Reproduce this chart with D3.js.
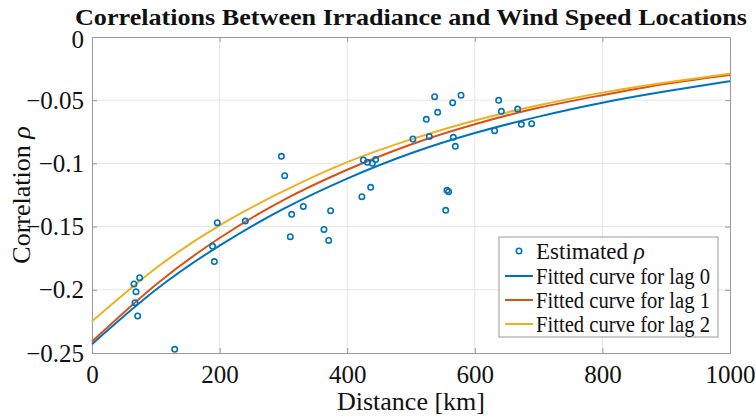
<!DOCTYPE html>
<html>
<head>
  <style>
    body { margin: 0; background: #fff; }
  </style>
</head>
<body>
  <svg width="756" height="417"></svg>
  <script src="https://d3js.org/d3.v7.min.js"></script>
  <script>
    // estimated correlation per site pair: [distance km, rho]
    const estDistance = [65.8, 74.7, 69, 67.4, 71.6, 129.6, 196.4, 189, 191.7, 240.3,
      296.8, 302, 313, 331.2, 310.8, 374, 363.6, 371, 423, 436.8, 425.3, 431.6, 439.4,
      444.6, 503, 528.7, 524, 537, 541.8, 565.3, 578.4, 566.3, 569.5, 556.4, 559, 554.4,
      631, 637.4, 641.6, 667.2, 673, 689.2];
    const estRho = [-0.1954, -0.1904, -0.2015, -0.2102, -0.2207, -0.2471, -0.1469, -0.1656,
      -0.1777, -0.1456, -0.0944, -0.1097, -0.1403, -0.134, -0.158, -0.1374, -0.1522, -0.1609,
      -0.1263, -0.1189, -0.0973, -0.0991, -0.0999, -0.0970, -0.0807, -0.0788, -0.0651, -0.0472,
      -0.0596, -0.052, -0.0461, -0.0794, -0.0865, -0.1213, -0.1224, -0.1371, -0.0741, -0.0501,
      -0.0588, -0.057, -0.0691, -0.0686];

    // fitted curves sampled every 100 km
    const fitDistance = [0, 100, 200, 300, 400, 500, 600, 700, 800, 900, 1000];
    const fitLag0 = [-0.243, -0.200, -0.165, -0.136, -0.112, -0.092, -0.076, -0.063, -0.052, -0.043, -0.035];
    const fitLag1 = [-0.241, -0.196, -0.159, -0.129, -0.105, -0.085, -0.069, -0.056, -0.046, -0.037, -0.030];
    const fitLag2 = [-0.225, -0.183, -0.149, -0.122, -0.099, -0.081, -0.066, -0.054, -0.044, -0.036, -0.029];

    const xTicks = [0, 200, 400, 600, 800, 1000];
    const yTicks = [0, -0.05, -0.1, -0.15, -0.2, -0.25];
    const seriesNames = ["Fitted curve for lag 0", "Fitted curve for lag 1", "Fitted curve for lag 2"];
    const colors = ["#0072BD", "#D95319", "#EDB120"];
    const serif = "'Liberation Serif', 'Times New Roman', serif";

    const svg = d3.select("svg").attr("font-family", serif),
          margin = {top: 37, right: 26, bottom: 64, left: 92},
          width = 756 - margin.left - margin.right,
          height = 417 - margin.top - margin.bottom;

    const x = d3.scaleLinear().domain([0, 1000]).range([0, width]),
          y = d3.scaleLinear().domain([-0.25, 0]).range([height, 0]);

    const g = svg.append("g")
      .attr("transform", "translate(" + margin.left + "," + margin.top + ")");

    // grid
    g.append("g").selectAll("line").data(xTicks.slice(1, -1)).join("line")
      .attr("x1", d => x(d)).attr("x2", d => x(d))
      .attr("y1", 0).attr("y2", height)
      .attr("stroke", "#e6e6e6").attr("stroke-width", 1);
    g.append("g").selectAll("line").data(yTicks.slice(1, -1)).join("line")
      .attr("y1", d => y(d)).attr("y2", d => y(d))
      .attr("x1", 0).attr("x2", width)
      .attr("stroke", "#e6e6e6").attr("stroke-width", 1);

    // axes with inward ticks
    const xAxis = g.append("g")
      .attr("transform", "translate(0," + height + ")")
      .call(d3.axisBottom(x).tickValues(xTicks).tickSizeInner(-5).tickSizeOuter(0).tickPadding(12).tickFormat(d3.format("d")));
    const yAxis = g.append("g")
      .call(d3.axisLeft(y).tickValues(yTicks).tickSizeInner(-5).tickSizeOuter(0).tickPadding(8).tickFormat(d => d === 0 ? "0" : d3.format("")(d)));
    g.append("g").call(d3.axisTop(x).tickValues(xTicks).tickSizeInner(-5).tickSizeOuter(0).tickFormat(""));
    g.append("g").attr("transform", "translate(" + width + ",0)")
      .call(d3.axisRight(y).tickValues(yTicks).tickSizeInner(-5).tickSizeOuter(0).tickFormat(""));

    g.selectAll(".domain").attr("stroke", "#999");
    g.selectAll(".tick line").attr("stroke", "#999");
    [xAxis, yAxis].forEach(function(a) {
      a.attr("font-family", serif).attr("font-size", 25);
      a.selectAll("text").attr("fill", "#111");
    });
    yAxis.selectAll("text").filter(d => d === 0).attr("dy", "0.42em");

    // fitted curves
    const line = d3.line()
      .x((d, i) => x(fitDistance[i]))
      .y(d => y(d))
      .curve(d3.curveNatural);
    [fitLag0, fitLag1, fitLag2].forEach(function(s, i) {
      g.append("path")
        .attr("d", line(s))
        .attr("fill", "none")
        .attr("stroke", colors[i])
        .attr("stroke-width", 2);
    });

    // estimated points
    g.selectAll(".dot")
      .data(estDistance)
      .join("circle")
      .attr("class", "dot")
      .attr("cx", d => x(d))
      .attr("cy", (d, i) => y(estRho[i]))
      .attr("r", 2.7)
      .attr("fill", "none")
      .attr("stroke", colors[0])
      .attr("stroke-width", 1.6);

    // title and axis labels
    svg.append("text")
      .attr("x", 411).attr("y", 25)
      .attr("text-anchor", "middle")
      .attr("font-size", 24).attr("font-weight", "bold")
      .attr("fill", "#111")
      .attr("textLength", 672).attr("lengthAdjust", "spacingAndGlyphs")
      .text("Correlations Between Irradiance and Wind Speed Locations");
    svg.append("text")
      .attr("x", 411).attr("y", 410)
      .attr("text-anchor", "middle")
      .attr("font-size", 26).attr("fill", "#111")
      .text("Distance [km]");
    svg.append("text")
      .attr("transform", "translate(30,195) rotate(-90)")
      .attr("text-anchor", "middle")
      .attr("font-size", 26).attr("fill", "#111")
      .html("Correlation <tspan font-style='italic'>ρ</tspan>");

    // legend
    const legend = svg.append("g").attr("transform", "translate(499,237)");
    legend.append("rect")
      .attr("width", 219).attr("height", 100)
      .attr("fill", "#fff").attr("stroke", "#999").attr("stroke-width", 1);
    const rowY = [14, 39, 63, 87];
    legend.append("circle")
      .attr("cx", 20).attr("cy", rowY[0]).attr("r", 2.7)
      .attr("fill", "none").attr("stroke", colors[0]).attr("stroke-width", 1.6);
    legend.append("text")
      .attr("x", 37).attr("y", rowY[0]).attr("dy", "0.33em")
      .attr("font-size", 23).attr("fill", "#111")
      .html("Estimated <tspan font-style='italic'>ρ</tspan>");
    seriesNames.forEach(function(name, i) {
      legend.append("line")
        .attr("x1", 6).attr("x2", 34)
        .attr("y1", rowY[i + 1]).attr("y2", rowY[i + 1])
        .attr("stroke", colors[i]).attr("stroke-width", 2);
      legend.append("text")
        .attr("x", 37).attr("y", rowY[i + 1]).attr("dy", "0.33em")
        .attr("font-size", 23).attr("fill", "#111")
        .attr("textLength", 174).attr("lengthAdjust", "spacingAndGlyphs")
        .text(name);
    });
  </script>
</body>
</html>
